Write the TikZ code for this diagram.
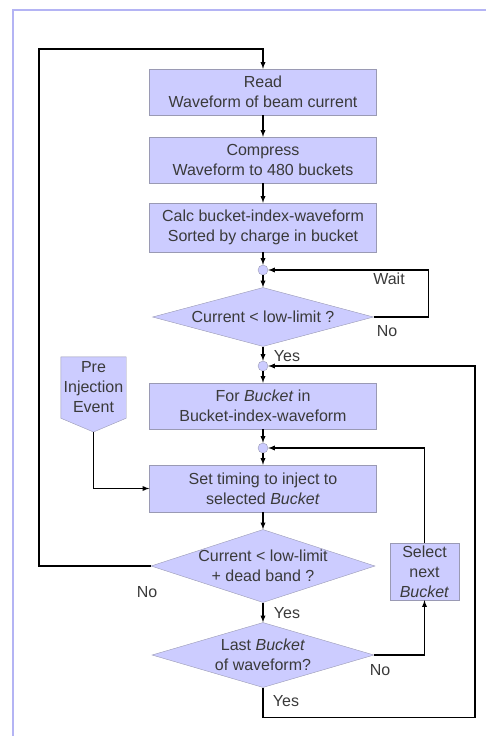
\documentclass[tikz,border=0pt]{standalone}
\usepackage{fontspec}
\setmainfont{Liberation Sans}
\usetikzlibrary{shapes.geometric,backgrounds}
\definecolor{boxfill}{HTML}{CCCCFF}
\definecolor{boxline}{HTML}{9A9AB4}
\definecolor{framecol}{HTML}{B4B4F4}
\definecolor{txt}{HTML}{3A3A3A}
\tikzset{
  stepbox/.style={rectangle,draw=boxline,fill=boxfill,text=txt,align=center,
    minimum width=227pt,minimum height=46pt,inner sep=0pt},
  decide/.style={diamond,draw=boxline,fill=boxfill,text=txt,align=center,inner sep=-10pt},
  joint/.style={circle,draw=boxline,fill=boxfill,minimum size=10pt,inner sep=0pt},
  lbl/.style={text=txt,inner sep=0pt},
  flow/.style={-latex,line width=1.3pt}
}
\begin{document}
\begin{tikzpicture}[x=1pt,y=-1pt,font=\fontsize{16}{20}\selectfont]
\useasboundingbox (0,0) rectangle (486,736);
\draw[framecol,line width=2pt](13,736)--(13,10)--(486,10);
% main column
\node[stepbox](read) at (263,92){Read\\Waveform of beam current};
\node[stepbox](comp) at (263,160){Compress\\Waveform to 480 buckets};
\node[stepbox,minimum height=49pt](calc) at (263,227.5){Calc bucket-index-waveform\\Sorted by charge in bucket};
\node[joint](j1) at (263,270){};
\node[decide,aspect=3.75,minimum width=221pt,minimum height=59pt](d1) at (263,317){Current < low-limit ?};
\node[joint](j2) at (263,366){};
\node[stepbox](forb) at (263,406){For \textit{Bucket} in\\Bucket-index-waveform};
\node[joint](j3) at (263,448){};
\node[stepbox,minimum height=47pt](sett) at (263,488.5){Set timing to inject to\\selected \textit{Bucket}};
\node[decide,aspect=3.07,minimum width=224pt,minimum height=73pt](d2) at (263,566){Current < low-limit\\+ dead band ?};
\node[decide,aspect=3.42,minimum width=222pt,minimum height=65pt](d3) at (263,655){Last \textit{Bucket}\\of waveform?};
% side boxes
\node[stepbox,minimum width=69pt,minimum height=57pt](sel) at (424.5,571.5){Select\\next\\\textit{Bucket}};
\node[text=txt,align=center,minimum width=65pt,minimum height=61pt,inner sep=0pt](pre) at (93.5,387.5){Pre\\Injection\\Event};
\coordinate(pretip) at (93.5,432);
\begin{scope}[on background layer]
\draw[draw=boxline,fill=boxfill](pre.north west)--(pre.north east)--(pre.south east)--(pretip)--(pre.south west)--cycle;
\end{scope}
\coordinate(loop) at (39,49);
% connectors
\draw[flow](read)--(comp);
\draw[flow](comp)--(calc);
\draw[flow](calc)--(j1);
\draw[flow](j1)--(d1);
\draw[flow](d1.east)--++(55,0)|-(j1);
\draw[flow](d1)--(j2);
\draw[flow](j2)--(forb);
\draw[flow](forb)--(j3);
\draw[flow](j3)--(sett);
\draw[flow](pretip)|-(sett.west);
\draw[flow](sett)--(d2);
\draw[flow](d2.west)-|(loop)-|(read.north);
\draw[flow](d2)--(d3);
\draw[flow](d3.east)-|(sel.south);
\draw[flow](sel.north)|-(j3);
\draw[flow](d3.south)--++(0,29.5)-|(475,366)--(j2);
% labels
\node[lbl](wait) at (389,279){Wait};
\node[lbl](no1) at (387,331){No};
\node[lbl](yes1) at (287,356){Yes};
\node[lbl](no2) at (147,592){No};
\node[lbl](yes2) at (287,613){Yes};
\node[lbl](no3) at (380,670){No};
\node[lbl](yes3) at (286,701){Yes};
\end{tikzpicture}
\end{document}
